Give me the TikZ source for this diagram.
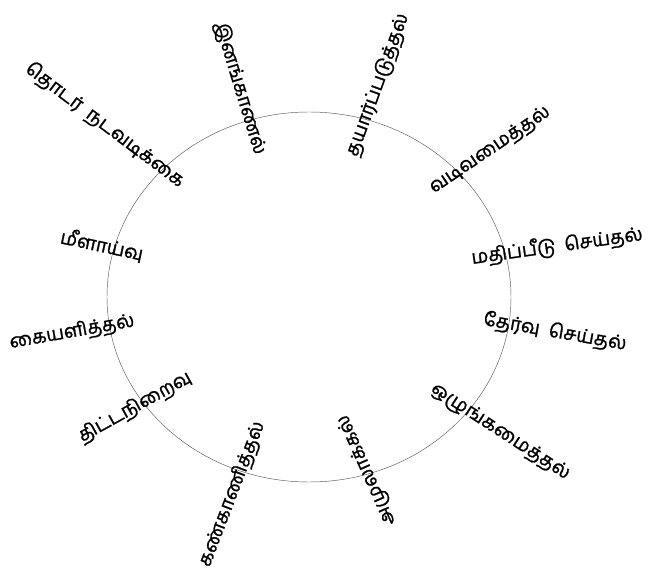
\documentclass[tikz,border=0pt]{standalone}
\usepackage{fontspec}
\newfontfamily\tamilfont[Script=Tamil,FakeBold=1.2]{Hind Madurai}
\begin{document}
\begin{tikzpicture}[x=1pt,y=-1pt,
  lbl/.style={font=\tamilfont\fontsize{19}{22}\selectfont, inner sep=0pt, text=black},
  ring/.style={draw=black!65, line width=0.45pt}]
\useasboundingbox[fill=white] (0,0) rectangle (659,569);
\draw[ring] (309,297) ellipse [x radius=202, y radius=185];
\node[lbl, rotate=-37] (n1) at (105,125) {தொடர்\ \ நடவடிக்கை};
\node[lbl, rotate=-73] (n2) at (240,88) {இனங்காணல்};
\node[lbl, rotate=70] (n3) at (378,85) {தயார்ப்படுத்தல்};
\node[lbl, rotate=34] (n4) at (490,150) {வடிவமைத்தல்};
\node[lbl, rotate=8] (n5) at (557,246) {மதிப்பீடு\ \ செய்தல்};
\node[lbl, rotate=-10] (n6) at (555,332) {தேர்வு\ \ செய்தல்};
\node[lbl, rotate=-33] (n7) at (500,432) {ஒழுங்கமைத்தல்};
\node[lbl, rotate=114] (n8) at (367,470) {அமுலாக்கல்};
\node[lbl, rotate=69] (n9) at (232,494) {கண்காணித்தல்};
\node[lbl, rotate=29] (n10) at (135,407) {திட்டநிறைவு};
\node[lbl, rotate=10] (n11) at (72,332) {கையளித்தல்};
\node[lbl, rotate=-12] (n12) at (102,245) {மீளாய்வு};
\end{tikzpicture}
\end{document}
